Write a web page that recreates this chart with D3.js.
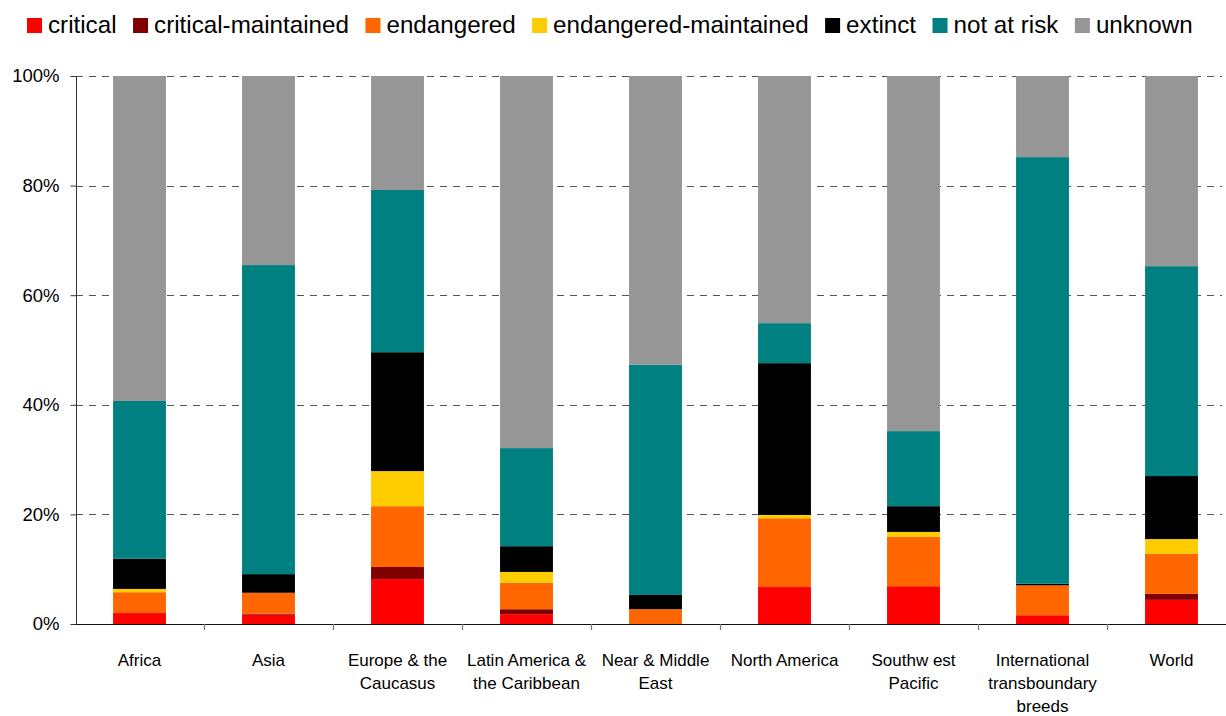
<!DOCTYPE html>
<html>
<head>
<meta charset="utf-8">
<script src="https://cdn.jsdelivr.net/npm/d3@7"></script>
<style>
  html, body { margin: 0; padding: 0; background: #fff; }
  svg { display: block; font-family: "Liberation Sans", Arial, sans-serif; }
</style>
</head>
<body>
<svg id="chart" width="1226" height="716"></svg>
<script>
// ---- data ----
const categories = ["Africa", "Asia", "Europe & the Caucasus", "Latin America & the Caribbean",
  "Near & Middle East", "North America", "Southwest Pacific", "International transboundary breeds", "World"];
const categoryLabels = [["Africa"], ["Asia"], ["Europe & the", "Caucasus"], ["Latin America &", "the Caribbean"],
  ["Near & Middle", "East"], ["North America"], ["Southw est", "Pacific"], ["International", "transboundary", "breeds"], ["World"]];
const seriesNames = ["critical", "critical-maintained", "endangered", "endangered-maintained", "extinct", "not at risk", "unknown"];
const critical             = [2.0, 1.7, 8.2, 1.8, 0.0, 6.75, 6.9, 1.6, 4.4];
const criticalMaintained   = [0.0, 0.2, 2.2, 0.9, 0.0, 0.0, 0.0, 0.0, 1.1];
const endangered           = [3.8, 3.8, 11.1, 4.8, 2.7, 12.55, 9.0, 5.45, 7.3];
const endangeredMaintained = [0.6, 0.0, 6.4, 2.0, 0.0, 0.6, 0.9, 0.0, 2.7];
const extinct              = [5.5, 3.4, 21.7, 4.7, 2.6, 27.7, 4.7, 0.3, 11.5];
const notAtRisk            = [28.8, 56.4, 29.6, 17.9, 42.0, 7.3, 13.7, 77.85, 38.3];
const unknown              = [59.3, 34.5, 20.8, 67.9, 52.7, 45.1, 64.8, 14.8, 34.7];
const yTicks = [0, 20, 40, 60, 80, 100];
const colors = ["#ff0000", "#800000", "#ff6600", "#ffcc00", "#000000", "#008080", "#969696"];

(function () {
// ---- build table ----
const seriesValues = [critical, criticalMaintained, endangered, endangeredMaintained, extinct, notAtRisk, unknown];
const table = categories.map((c, i) => {
  const row = { category: c };
  seriesNames.forEach((s, j) => row[s] = seriesValues[j][i]);
  return row;
});

const svg = d3.select("#chart");
const pLeft = 75, pRight = 1236, pTop = 76, pBottom = 624;

const x = d3.scaleBand().domain(categories).range([pLeft, pRight]).paddingInner(0.59).paddingOuter(0.295);
const step = x.step();
const y = d3.scaleLinear().domain([0, 100]).range([pBottom, pTop]);
const color = d3.scaleOrdinal().domain(seriesNames).range(colors);

// gridlines
svg.append("g").selectAll("line").data(yTicks.filter(t => t > 0)).join("line")
  .attr("x1", 76).attr("x2", 1222)
  .attr("y1", d => Math.round(y(d)) + 0.5).attr("y2", d => Math.round(y(d)) + 0.5)
  .attr("stroke", "#555").attr("stroke-width", 1).attr("stroke-dasharray", "7,6");

// bars
const stacked = d3.stack().keys(seriesNames)(table);
svg.append("g").selectAll("g").data(stacked).join("g")
  .attr("fill", d => color(d.key))
  .selectAll("rect").data(d => d).join("rect")
  .attr("x", d => x(d.data.category))
  .attr("width", x.bandwidth())
  .attr("y", d => y(d[1]))
  .attr("height", d => Math.max(0, y(d[0]) - y(d[1])));

// y axis
const yAxis = svg.append("g").attr("transform", "translate(76.5,0)")
  .call(d3.axisLeft(y).tickValues(yTicks).tickFormat(d => d + "%").tickSize(6).tickPadding(11));
yAxis.select(".domain").attr("stroke", "#333").attr("d", `M0,${pTop}V${pBottom}`);
yAxis.selectAll(".tick line").attr("stroke", "#333");
yAxis.selectAll(".tick text").attr("font-size", "18.5px").attr("fill", "#000")
  .attr("font-family", "'Liberation Sans', Arial, sans-serif");

// x axis line & ticks at category boundaries
const gx = svg.append("g");
gx.append("line").attr("x1", 76).attr("x2", 1226).attr("y1", pBottom + 0.5).attr("y2", pBottom + 0.5)
  .attr("stroke", "#111").attr("stroke-width", 1.2);
const boundaries = d3.range(1, categories.length).map(i => pLeft + i * step);
gx.selectAll("line.tk").data(boundaries).join("line").attr("class", "tk")
  .attr("x1", d => Math.round(d) + 0.5).attr("x2", d => Math.round(d) + 0.5)
  .attr("y1", pBottom).attr("y2", pBottom + 6).attr("stroke", "#777").attr("stroke-width", 1.2);

// x labels
const lbl = gx.selectAll("text.xl").data(categories).join("text").attr("class", "xl")
  .attr("text-anchor", "middle").attr("font-size", "17px").attr("fill", "#000")
  .attr("transform", d => `translate(${x(d) + x.bandwidth() / 2},666)`);
lbl.each(function(d, i) {
  d3.select(this).selectAll("tspan").data(categoryLabels[i]).join("tspan")
    .attr("x", 0).attr("y", (t, k) => k * 23).text(t => t);
});

// legend
const leg = svg.append("g");
let lx = 27;
seriesNames.forEach((s, j) => {
  leg.append("rect").attr("x", lx).attr("y", 18).attr("width", 15).attr("height", 15).attr("fill", color(s));
  const t = leg.append("text").attr("x", lx + 21).attr("y", 33).attr("font-size", "24.2px").attr("fill", "#000").text(s);
  const w = t.node().getComputedTextLength();
  lx = lx + 21 + w + 16.5;
});
})();
</script>
</body>
</html>
